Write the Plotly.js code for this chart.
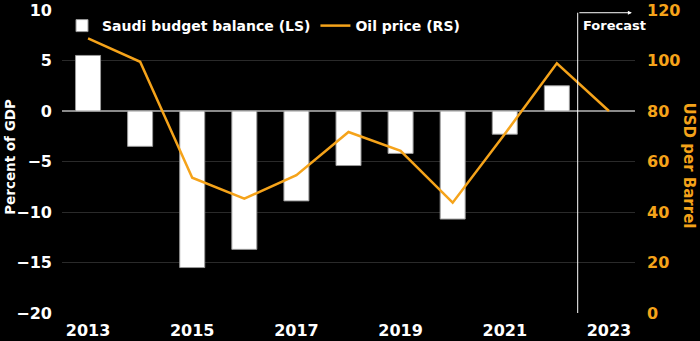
<!DOCTYPE html>
<html>
<head>
<meta charset="utf-8">
<script src="https://cdn.plot.ly/plotly-3.0.1.min.js"></script>
<style>
html,body{margin:0;padding:0;background:#000;}
#chart{width:700px;height:341px;}
</style>
</head>
<body>
<div id="chart"></div>
<script>
const years = [2013, 2014, 2015, 2016, 2017, 2018, 2019, 2020, 2021, 2022, 2023];
const budgetBalance = [5.5, -3.5, -15.5, -13.7, -8.9, -5.4, -4.2, -10.7, -2.3, 2.5, null];
const oilPrice = [108.8, 99.5, 53.6, 45.3, 54.6, 71.7, 64.2, 43.7, 70.9, 98.9, 80.0];
const xTickVals = [2013, 2015, 2017, 2019, 2021, 2023];
const xTickText = ['2013', '2015', '2017', '2019', '2021', '2023'];
const leftTicks = [-20, -15, -10, -5, 0, 5, 10];
const rightTicks = [0, 20, 40, 60, 80, 100, 120];
const zeroLineTicks = [2012.5, 2014.5, 2016.5, 2018.5, 2020.5, 2022.5];
const forecastStart = 2022.4;

const ORANGE = '#f5a31a';
const FONT = 'DejaVu Sans, Verdana, sans-serif';

const traces = [
  {
    type: 'bar', name: 'Saudi budget balance (LS)',
    x: years, y: budgetBalance, width: 0.48,
    marker: {color: '#ffffff', line: {color: '#9a9a9a', width: 1}},
    xaxis: 'x', yaxis: 'y', hoverinfo: 'skip'
  },
  {
    type: 'scatter', mode: 'lines', name: 'Oil price (RS)',
    x: years, y: oilPrice,
    line: {color: ORANGE, width: 2.5},
    xaxis: 'x', yaxis: 'y2', hoverinfo: 'skip'
  }
];

const layout = {
  width: 700, height: 341,
  paper_bgcolor: '#000', plot_bgcolor: '#000',
  margin: {l: 62, r: 65, t: 10, b: 28},
  font: {family: FONT, color: '#ffffff', size: 15, weight: 'bold'},
  showlegend: true,
  legend: {
    orientation: 'h', x: 0, xanchor: 'left', y: 1.0, yanchor: 'top',
    bgcolor: 'rgba(0,0,0,0)', font: {family: FONT, size: 14, color: '#fff', weight: 'bold'},
    traceorder: 'normal', itemwidth: 30
  },
  bargap: 0,
  xaxis: {
    range: [2012.5, 2023.5], tickvals: xTickVals, ticktext: xTickText,
    ticks: '', showgrid: false, zeroline: false, showline: false,
    ticklabelstandoff: 6,
    tickfont: {family: FONT, size: 16, color: '#fff', weight: 'bold'}
  },
  xaxis2: {
    overlaying: 'x', anchor: 'free', position: 2/3,
    range: [2012.5, 2023.5], tickvals: zeroLineTicks,
    ticks: 'outside', ticklen: 5, tickwidth: 1, tickcolor: '#8a8a8a',
    showticklabels: false, showgrid: false, zeroline: false, showline: false
  },
  yaxis: {
    range: [-20, 10], tickvals: leftTicks, ticks: '',
    showgrid: true, gridcolor: '#2a2a2a', gridwidth: 1,
    zeroline: true, zerolinecolor: '#8a8a8a', zerolinewidth: 1.5,
    ticklabelstandoff: 9,
    tickfont: {family: FONT, size: 16, color: '#fff', weight: 'bold'}
  },
  yaxis2: {
    range: [0, 120], tickvals: rightTicks, overlaying: 'y', side: 'right',
    ticks: '', showgrid: false, zeroline: false,
    ticklabelstandoff: 11,
    tickfont: {family: FONT, size: 16, color: ORANGE, weight: 'bold'}
  },
  shapes: [
    {type: 'line', xref: 'x', yref: 'paper', x0: forecastStart, x1: forecastStart, y0: 0, y1: 0.991,
     line: {color: '#ffffff', width: 1}}
  ],
  annotations: [
    {xref: 'x', yref: 'paper', x: 2023.44, y: 0.991, axref: 'pixel', ayref: 'pixel', ax: -54, ay: 0,
     showarrow: true, arrowhead: 2, arrowsize: 0.8, arrowwidth: 1, arrowcolor: '#ffffff', text: ''},
    {xref: 'x', yref: 'paper', x: forecastStart + 0.06, y: 0.95, xanchor: 'left', yanchor: 'middle',
     text: 'Forecast', showarrow: false, font: {family: FONT, size: 13, color: '#fff', weight: 'bold'}},
    {xref: 'paper', yref: 'paper', x: -0.091, y: 0.515, textangle: -90, xanchor: 'center', yanchor: 'middle',
     text: 'Percent of GDP', showarrow: false, font: {family: FONT, size: 13.5, color: '#fff', weight: 'bold'}},
    {xref: 'paper', yref: 'paper', x: 1.095, y: 0.485, textangle: 90, xanchor: 'center', yanchor: 'middle',
     text: 'USD per Barrel', showarrow: false, font: {family: FONT, size: 15, color: ORANGE, weight: 'bold'}}
  ]
};

Plotly.newPlot('chart', traces, layout, {displayModeBar: false, staticPlot: true});
</script>
</body>
</html>
